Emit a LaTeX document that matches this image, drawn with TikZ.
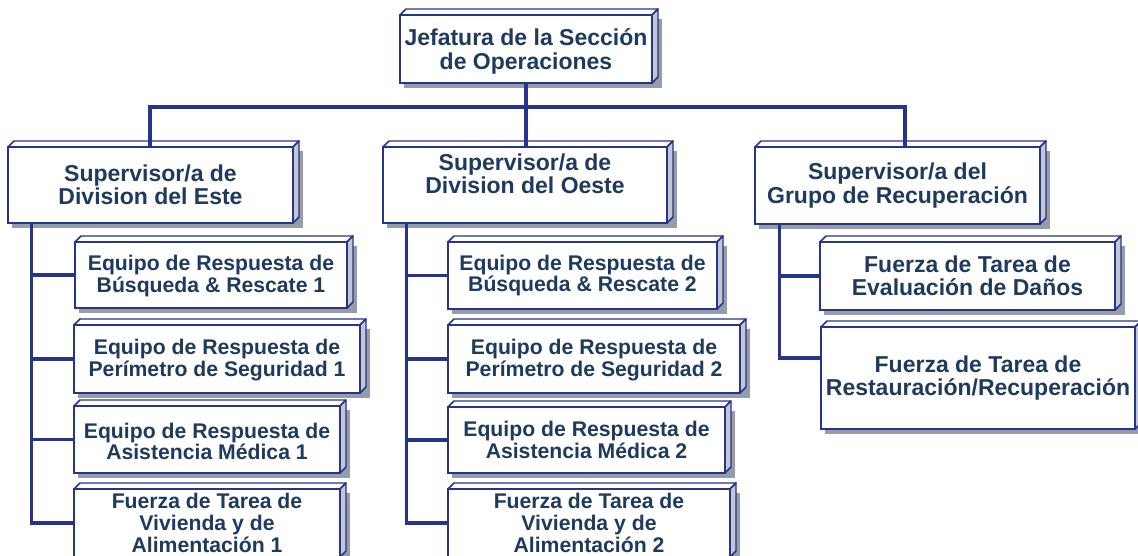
\documentclass[tikz,border=0pt]{standalone}
\usepackage{fontspec}
\setmainfont{Liberation Sans}
\usetikzlibrary{calc}
\definecolor{bord}{RGB}{38,52,140}
\definecolor{txt}{RGB}{30,58,95}
\definecolor{sidec}{RGB}{196,198,210}
\definecolor{shadc}{RGB}{150,156,168}
\newcommand\obox[8]{%
  \fill[shadc] (#2+4,#3+4) rectangle (#4+10,#5+5);
  \filldraw[draw=bord, line width=1.1pt, fill=white, line join=round] (#2,#3) -- (#2+6,#3-6) -- (#4+6,#3-6) -- (#4,#3) -- cycle;
  \filldraw[draw=bord, line width=1.1pt, fill=sidec, line join=round] (#4,#3) -- (#4+6,#3-6) -- (#4+6,#5-6) -- (#4,#5) -- cycle;
  \node[face, minimum width={(#4-#2)*0.75pt}, minimum height={(#5-#3)*0.75pt}] (#1) at ({(#2+#4)/2},{(#3+#5)/2}) {};
  \node[#6] (#1t) at ({(#2+#4)/2},{(#3+#5)/2+#7}) {#8};
}
\begin{document}
\begin{tikzpicture}[x=0.75pt,y=-0.75pt,
  conn/.style={draw=bord, line width=2.3pt},
  face/.style={draw=bord, line width=1.4pt, fill=white, rectangle, inner sep=0pt},
  bigtxt/.style={text=txt, font=\bfseries\fontsize{17.25}{17.4}\selectfont, align=center, inner sep=0pt},
  bigtxtb/.style={text=txt, font=\bfseries\fontsize{17.25}{16.6}\selectfont, align=center, inner sep=0pt},
  smalltxt/.style={text=txt, font=\bfseries\fontsize{15.9}{16.2}\selectfont, align=center, inner sep=0pt}]
\clip (0,0) rectangle (1138,556);
\fill[white] (0,0) rectangle (1138,556);

\obox{jef}{400}{15}{652}{83}{bigtxt}{2.5}{Jefatura de la Sección\\de Operaciones}
\obox{east}{8}{147}{293}{223}{bigtxt}{0}{Supervisor/a de\\Division del Este}
\obox{west}{383}{147}{667}{223}{bigtxt}{-11}{Supervisor/a de\\Division del Oeste}
\obox{rec}{755}{147}{1040}{224}{bigtxt}{0}{Supervisor/a del\\Grupo de Recuperación}

\obox{e1}{75}{242}{347}{308}{smalltxt}{1}{Equipo de Respuesta de\\Búsqueda \& Rescate 1}
\obox{e2}{74}{325}{360}{393}{smalltxt}{1}{Equipo de Respuesta de\\Perímetro de Seguridad 1}
\obox{e3}{74}{406}{340}{473}{smalltxt}{2}{Equipo de Respuesta de\\Asistencia Médica 1}
\obox{e4}{74}{489}{340}{557}{smalltxt}{0}{Fuerza de Tarea de\\Vivienda y de\\Alimentación 1}

\obox{w1}{448}{242}{717}{309}{smalltxt}{0}{Equipo de Respuesta de\\Búsqueda \& Rescate 2}
\obox{w2}{448}{325}{740}{393}{smalltxt}{1}{Equipo de Respuesta de\\Perímetro de Seguridad 2}
\obox{w3}{448}{407}{725}{473}{smalltxt}{0}{Equipo de Respuesta de\\Asistencia Médica 2}
\obox{w4}{448}{489}{730}{557}{smalltxt}{0}{Fuerza de Tarea de\\Vivienda y de\\Alimentación 2}

\obox{r1}{820}{242}{1115}{310}{bigtxt}{0}{Fuerza de Tarea de\\Evaluación de Daños}
\obox{r2}{821}{327}{1135}{429}{bigtxtb}{0}{Fuerza de Tarea de\\Restauración/Recuperación}

% top connectors
\coordinate (barL) at (150,107);
\coordinate (barR) at (905,107);
\draw[conn] (jef.south) -- (jef.south |- west.north);
\draw[conn] (barL |- east.north) -- (barL) -- (barR) -- (barR |- rec.north);

% east branch
\coordinate (es) at ([xshift=18pt]east.south west);
\draw[conn] (es) |- (e4.west);
\draw[conn] (es |- e1.west) -- (e1.west);
\draw[conn] (es |- e2.west) -- (e2.west);
\draw[conn] (es |- e3.west) -- (e3.west);

% west branch
\coordinate (ws) at ([xshift=18pt]west.south west);
\draw[conn] (ws) |- (w4.west);
\draw[conn] (ws |- w1.west) -- (w1.west);
\draw[conn] (ws |- w2.west) -- (w2.west);
\draw[conn] (ws |- w3.west) -- (w3.west);

% recovery branch
\coordinate (rs) at ([xshift=18.75pt]rec.south west);
\draw[conn] (rs) |- ([yshift=15pt]r2.west);
\draw[conn] (rs |- r1.west) -- (r1.west);
\end{tikzpicture}
\end{document}
